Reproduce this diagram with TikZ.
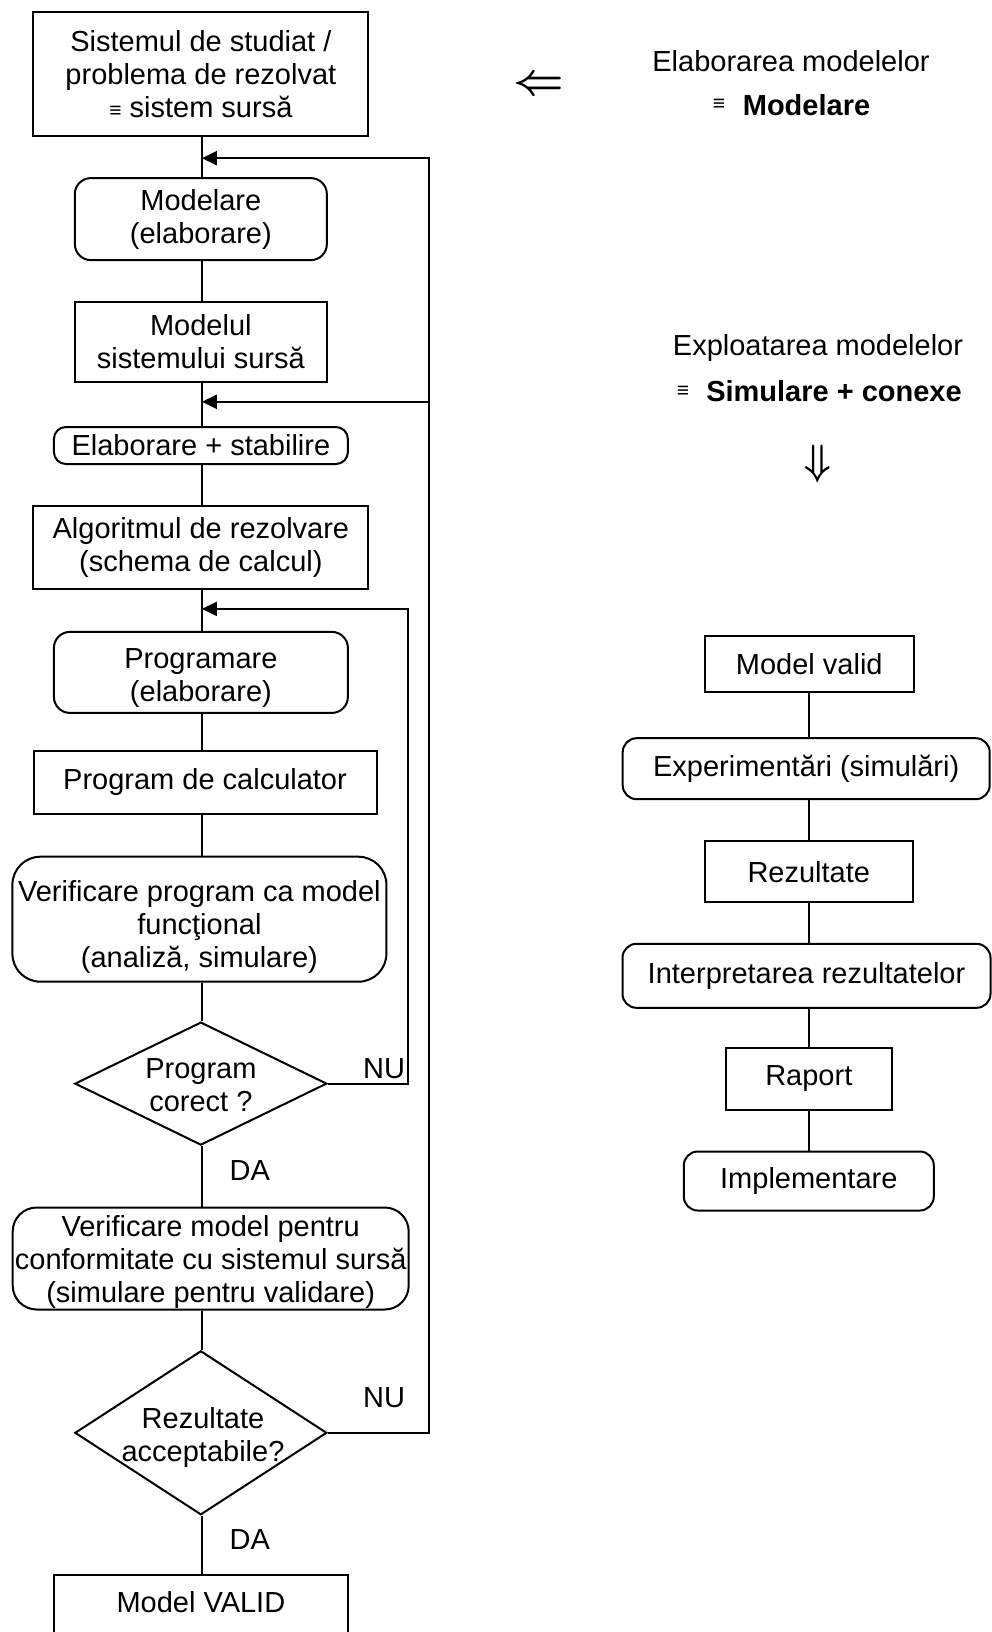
\documentclass[tikz,border=0pt]{standalone}
\usepackage{graphicx}
\usepackage{fontspec}
\setmainfont{Liberation Sans}
\usetikzlibrary{shapes.geometric,arrows.meta}
\begin{document}
\begin{tikzpicture}[x=1pt,y=-1pt,
  every node/.style={font=\fontsize{29}{33}\selectfont, inner sep=0pt, align=center},
  box/.style={draw, line width=2pt, rectangle},
  rbox/.style={draw, line width=2pt, rectangle, rounded corners=16pt},
  dia/.style={draw, line width=2pt, diamond, inner sep=0pt},
  link/.style={line width=2pt},
  back/.style={line width=2pt, -{Triangle[length=15pt,width=14pt]}}]
\useasboundingbox (0,0) rectangle (992,1632);
\clip (0,0) rectangle (992,1632);
\newcommand{\eqv}{{\fontsize{21}{21}\selectfont ≡}}
% ---------- left column ----------
\node[box, minimum width=335pt, minimum height=124pt] (sys) at (200.9,74.5)
  {Sistemul de studiat /\\problema de rezolvat\\\eqv{} sistem sursă};
\node[rbox, minimum width=252pt, minimum height=82pt] (mod) at (200.85,219.1)
  {Modelare\\(elaborare)};
\node[box, minimum width=252pt, minimum height=80pt] (modl) at (200.85,342)
  {Modelul\\sistemului sursă};
\node[rbox, rounded corners=12pt, minimum width=294pt, minimum height=37pt] (elab) at (200.9,445.5)
  {Elaborare + stabilire};
\node[box, minimum width=335pt, minimum height=83pt] (alg) at (200.9,547.5)
  {Algoritmul de rezolvare\\(schema de calcul)};
\node[rbox, minimum width=294pt, minimum height=81pt] (prog) at (200.9,672.4) {};
\node (progt) at (200.9,678.4) {Programare\\(elaborare)};
\node[box, minimum width=343pt, minimum height=63pt] (calc) at (205,782.2)
  {Program de calculator};
\node[rbox, rounded corners=28pt, minimum width=374pt, minimum height=125pt] (vprog) at (199.4,919.2) {};
\node (vprogt) at (199.4,926.5)
  {Verificare program ca model\\funcţional\\(analiză, simulare)};
\node[dia, minimum width=252pt, minimum height=123pt] (d1) at (200.85,1083.6) {};
\node (d1t) at (200.85,1085) {Program\\corect ?};
\node[rbox, rounded corners=24pt, minimum width=396pt, minimum height=102pt] (vmod) at (210.7,1258.5) {};
\node (vmodt) at (210.7,1262)
  {Verificare model pentru\\conformitate cu sistemul sursă\\(simulare pentru validare)};
\node[dia, minimum width=252pt, minimum height=164pt] (d2) at (200.85,1432.8) {};
\node (d2t) at (203,1437) {Rezultate\\acceptabile?};
\node[box, minimum width=294pt, minimum height=80pt] (valid) at (200.9,1615) {};
\node (validt) at (200.9,1602) {Model VALID};

\node (nu1) at (384,1069) {NU};
\node (nu2) at (384,1398) {NU};
\node (da1) at (249.8,1171) {DA};
\node (da2) at (249.8,1539.5) {DA};

\coordinate (spine) at (201.9,0);
\coordinate (xA) at (428.9,0);
\coordinate (xC) at (408,0);
\coordinate (jA) at (201.9,158.2);
\coordinate (jB) at (201.9,401.8);
\coordinate (jC) at (201.9,608.9);
\coordinate (bB) at (428.9,401.8);

\draw[link] (sys.south -| spine) -- (mod.north -| spine);
\draw[link] (mod.south -| spine) -- (modl.north -| spine);
\draw[link] (modl.south -| spine) -- (elab.north -| spine);
\draw[link] (elab.south -| spine) -- (alg.north -| spine);
\draw[link] (alg.south -| spine) -- (prog.north -| spine);
\draw[link] (prog.south -| spine) -- (calc.north -| spine);
\draw[link] (calc.south -| spine) -- (vprog.north -| spine);
\draw[link] (vprog.south -| spine) -- (d1.north -| spine);
\draw[link] (d1.south -| spine) -- (vmod.north -| spine);
\draw[link] (vmod.south -| spine) -- (d2.north -| spine);
\draw[link] (d2.south -| spine) -- (valid.north -| spine);

\draw[back] (d2.east) -| (xA |- jA) -- (jA);
\draw[back] (bB) -- (jB);
\draw[back] (d1.east) -| (xC |- jC) -- (jC);

% ---------- right column ----------
\node (h1) at (791,61.4) {Elaborarea modelelor};
\node (eq1) at (719,105) {\eqv};
\node (h1b) at (806.5,105) {\bfseries Modelare};
\node (larr) at (539,86) {\scalebox{1.77}{\boldmath$\Leftarrow$}};
\node (h2) at (818,347.7) {Exploatarea modelelor};
\node (eq2) at (683,391.4) {\eqv};
\node (h2b) at (834,391.4) {\bfseries Simulare + conexe};
\node (darr) at (818,464) {\scalebox{1.52}[1.7]{\boldmath$\Downarrow$}};

\node[box, minimum width=209pt, minimum height=56pt] (mv) at (809.3,664) {Model valid};
\node[rbox, rounded corners=14pt, minimum width=367pt, minimum height=61pt] (exp) at (806.2,768.7) {Experimentări (simulări)};
\node[box, minimum width=208pt, minimum height=61pt] (rez) at (808.8,871.8) {Rezultate};
\node[rbox, rounded corners=14pt, minimum width=368pt, minimum height=64pt] (intp) at (806.5,975.8) {Interpretarea rezultatelor};
\node[box, minimum width=166pt, minimum height=62pt] (rap) at (808.8,1078.8) {Raport};
\node[rbox, rounded corners=14pt, minimum width=250pt, minimum height=59pt] (impl) at (808.8,1181) {Implementare};

\coordinate (rspine) at (808.8,0);
\draw[link] (mv.south -| rspine) -- (exp.north -| rspine);
\draw[link] (exp.south -| rspine) -- (rez.north -| rspine);
\draw[link] (rez.south -| rspine) -- (intp.north -| rspine);
\draw[link] (intp.south -| rspine) -- (rap.north -| rspine);
\draw[link] (rap.south -| rspine) -- (impl.north -| rspine);
\end{tikzpicture}
\end{document}
